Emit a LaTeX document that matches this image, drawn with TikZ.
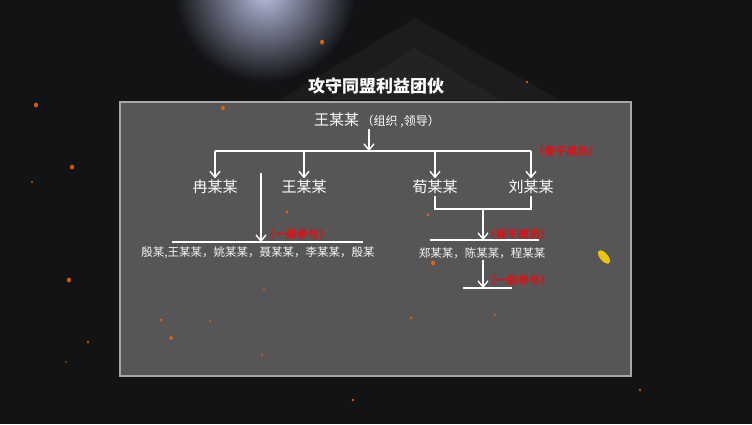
\documentclass[tikz,border=0pt]{standalone}
\usepackage{fontspec}
\newfontfamily\cjk{Noto Sans CJK SC}
\usetikzlibrary{positioning}
\usetikzlibrary{calc}
\usetikzlibrary{arrows.meta}

\definecolor{panelgray}{HTML}{5A5A5A}
\definecolor{tagred}{HTML}{D8141B}
\definecolor{night}{HTML}{121315}
\definecolor{glow}{HTML}{B8BEE0}

\begin{document}
\begin{tikzpicture}[x=1pt,y=-1pt,
	person/.style={text=white, font=\cjk\fontsize{15}{15}\selectfont, inner sep=1.5pt},
	group/.style={text=white!92!gray, font=\cjk\fontsize{11.5}{12}\selectfont, inner sep=1pt},
	tag/.style={text=tagred, font=\cjk\bfseries\fontsize{11}{12}\selectfont, inner sep=0pt, anchor=west},
	link/.style={draw=white, line width=1.6pt},
	arr/.style={link, -{Straight Barb[length=6pt,width=10pt,line width=1.4pt]}},
	spark/.style={fill=orange!80!red, opacity=0.85}]
	\useasboundingbox (0,0) rectangle (752,424);
	% background
	\fill[night] (0,0) rectangle (752,424);
	\begin{scope}
		\clip (0,0) rectangle (752,424);
		\shade[inner color=glow, outer color=night] (265,-8) circle (90);
		\fill[white, opacity=0.04] (280,100) -- (415,18) -- (560,100) -- cycle;
		\fill[white, opacity=0.03] (330,100) -- (415,48) -- (500,100) -- cycle;
	\end{scope}
	\foreach \x/\y/\r in {36/105/2.5, 72/167/2.5, 32/182/1.2, 69/280/2.5, 88/342/1.5, 322/42/2.5, 527/82/1.5, 640/390/1.5, 353/400/1.5, 66/362/1}
		\fill[spark] (\x,\y) ellipse ({\r*0.8} and \r);
	% panel
	\fill[panelgray, opacity=0.95] (120,102) rectangle (631,376);
	\draw[gray!70, line width=1.5pt] (120,102) rectangle (631,376);
	\foreach \x/\y/\r in {223/108/2.2, 287/212/1.8, 428/215/1.8, 433/263/2.5, 411/318/1.5, 495/315/1.2, 161/320/1.5, 171/338/2, 264/289/1, 262/355/1.2, 210/321/1}
		\fill[spark] (\x,\y) ellipse ({\r*0.8} and \r);
	\fill[yellow!70!orange, opacity=0.9, rotate around={40:(604,257)}] (604,257) ellipse (4 and 8);

	\node[text=white, font=\cjk\bfseries\fontsize{17}{17}\selectfont] (title) at (376,86) {攻守同盟利益团伙};
	\node[person] (leader) at (377,120) {王某某\,{\fontsize{12}{12}\selectfont（组织 ,领导）}};
	\coordinate (bus) at (369,151);
	\node[person] (ran) at (215,187) {冉某某};
	\node[person] (wang) at (304,187) {王某某};
	\node[person] (xun) at (435,187) {荀某某};
	\node[person] (liu) at (531,187) {刘某某};
	\node[tag] (core1) at (533,151) {（骨干成员）};

	\draw[arr] (leader.south -| bus) -- (bus);
	\draw[link] (ran.north |- bus) -- (liu.north |- bus);
	\foreach \n in {ran,wang,xun,liu}
		\draw[arr] (\n.north |- bus) -- (\n.north);

	% general members, left
	\coordinate (gtop) at (261,173);
	\coordinate (barL) at (172,242);
	\coordinate (barR) at (363,242);
	\node[group] (general) at (258,253) {殷某,王某某，姚某某，聂某某，李某某，殷某};
	\node[tag] (gen1) at (264,234) {（一般参与）};
	\draw[link] (barL) -- (barR);
	\draw[arr] (gtop) -- (gtop |- barL);

	% core members, right
	\coordinate (join) at (483,209);
	\coordinate (bar2L) at (430,240);
	\coordinate (bar2R) at (539,240);
	\draw[link] (xun.south) -- (xun.south |- join) -- (liu.south |- join) -- (liu.south);
	\draw[arr] (join) -- (join |- bar2L);
	\draw[link] (bar2L) -- (bar2R);
	\node[tag] (core2) at (485,234) {（骨干成员）};
	\node[group] (core) at (482,253) {郑某某，陈某某，程某某};

	\coordinate (bar3L) at (463,288);
	\coordinate (bar3R) at (512,288);
	\draw[arr] (core.south -| join) -- (join |- bar3L);
	\draw[link] (bar3L) -- (bar3R);
	\node[tag] (gen2) at (485,280) {（一般参与）};
\end{tikzpicture}
\end{document}
